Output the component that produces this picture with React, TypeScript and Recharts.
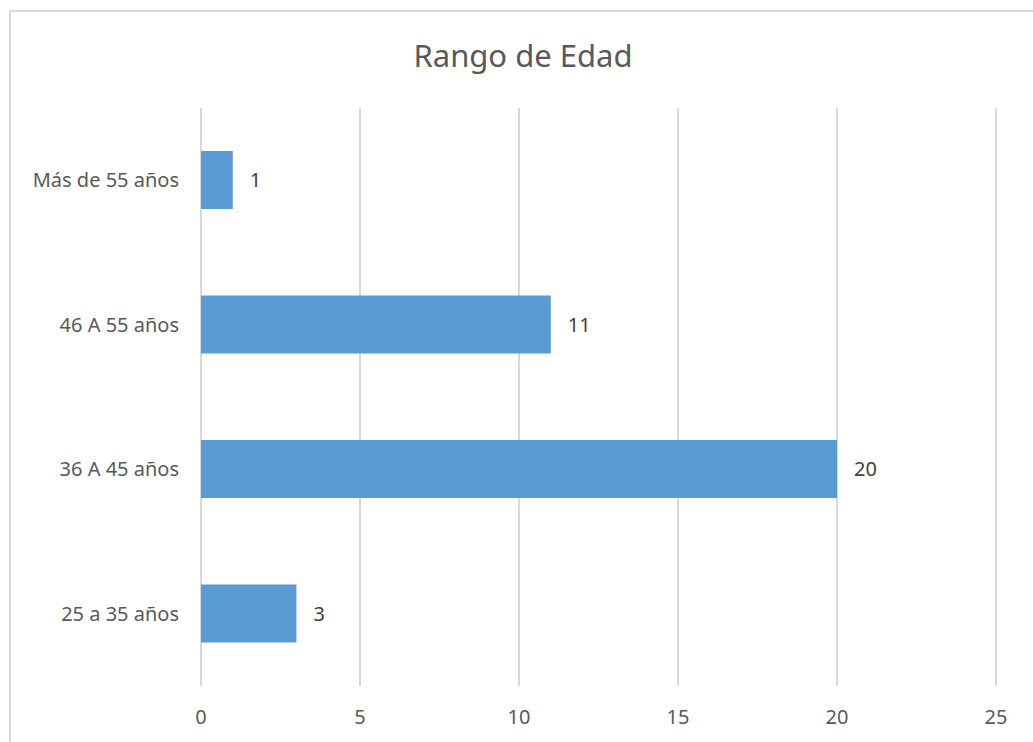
import { BarChart, Bar, XAxis, YAxis, CartesianGrid, LabelList } from "recharts";

const categories = ["25 a 35 años", "36 A 45 años", "46 A 55 años", "Más de 55 años"];
const counts = [3, 20, 11, 1];
const xTicks = [0, 5, 10, 15, 20, 25];

const data = categories.map((name, i) => ({ name, value: counts[i] }));

const FONT = "'Noto Sans', 'Open Sans', sans-serif";

export default function App() {
  return (
    <div
      style={{
        position: "fixed",
        left: 0,
        top: 0,
        width: 1033,
        height: 742,
        overflow: "hidden",
        background: "#fff",
        fontFamily: FONT,
      }}
    >
      <div
        style={{
          position: "absolute",
          left: 9,
          top: 10,
          width: 1040,
          height: 760,
          border: "2px solid #d9d9d9",
          boxSizing: "border-box",
        }}
      />
      <div
        style={{
          position: "absolute",
          top: 33,
          left: 0,
          width: 1046,
          textAlign: "center",
          fontSize: 31,
          color: "#595959",
          lineHeight: "44px",
        }}
      >
        Rango de Edad
      </div>
      <div style={{ position: "absolute", left: 0, top: 0 }}>
        <BarChart
          width={1033}
          height={742}
          data={data}
          layout="vertical"
          margin={{ top: 108, right: 37, bottom: 0, left: 21 }}
          barSize={58}
        >
          <CartesianGrid horizontal={false} stroke="#d9d9d9" strokeWidth={2} />
          <XAxis
            type="number"
            domain={[0, 25]}
            ticks={xTicks}
            axisLine={false}
            tickLine={false}
            tickSize={0}
            tickMargin={24}
            height={56}
            tick={{ fill: "#595959", fontSize: 20, fontFamily: FONT }}
          />
          <YAxis
            type="category"
            dataKey="name"
            reversed
            width={180}
            axisLine={false}
            tickLine={false}
            tickSize={0}
            tickMargin={22}
            tick={{ fill: "#595959", fontSize: 20, fontFamily: FONT }}
          />
          <Bar dataKey="value" fill="#5b9bd5" isAnimationActive={false}>
            <LabelList
              dataKey="value"
              position="right"
              offset={17}
              fill="#404040"
              fontSize={20}
              fontFamily={FONT}
            />
          </Bar>
        </BarChart>
      </div>
    </div>
  );
}
